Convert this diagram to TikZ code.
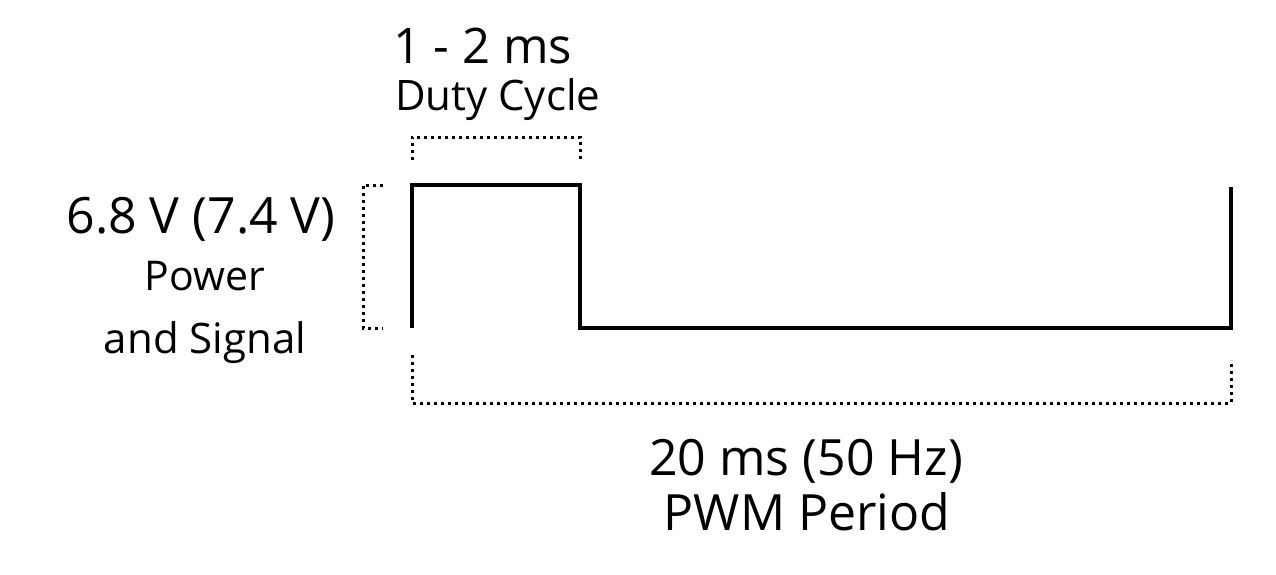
\documentclass[tikz,border=0pt]{standalone}
\usepackage{fontspec}
\setmainfont{Open Sans}
\begin{document}
\begin{tikzpicture}[x=1pt,y=-1pt, line join=miter, line cap=butt,
	wave/.style={line width=4pt},
	brace/.style={line width=3pt, dash pattern=on 3pt off 4pt},
	lbl/.style={inner sep=0pt, anchor=base, align=center}]
	\def\xa{412} \def\xb{580} \def\xc{1231} % Zeiten
	\def\yh{185} \def\yl{328}
	\useasboundingbox (0,0) rectangle (1276,574);
	% Signal
	\coordinate (s0) at (\xa,\yl);
	\coordinate (s1) at (\xa,\yh);
	\coordinate (s2) at (\xb,\yh);
	\coordinate (s3) at (\xb,\yl);
	\coordinate (s4) at (\xc,\yl);
	\coordinate (s5) at (\xc,187);
	\draw[wave] (s0)--(s1)--(s2)--(s3)--(s4)--(s5);
	% Klammern
	\draw[brace] (\xa,160)--(\xa,137)--(\xb,137)--(\xb,160);
	\draw[brace] (383,\yh)--(363,\yh)--(363,\yl)--(383,\yl);
	\draw[brace] (\xa,355)--(\xa,403)--(\xc,403)--(\xc,360);
	% Texte
	\node[lbl, anchor=base west, font=\fontsize{49}{60}\selectfont] (duty) at (393,63) {1 - 2 ms};
	\node[lbl, anchor=base west, font=\fontsize{42}{50}\selectfont] (dutyl) at (395,110) {Duty Cycle};
	\node[lbl, font=\fontsize{50}{60}\selectfont] (volt) at (201,233) {6.8 V (7.4 V)};
	\node[lbl, font=\fontsize{41}{50}\selectfont] (power) at (205,290) {Power};
	\node[lbl, font=\fontsize{42}{50}\selectfont] (sig) at (205,353) {and Signal};
	\node[lbl, font=\fontsize{50}{60}\selectfont] (per) at (806,475) {20 ms (50 Hz)};
	\node[lbl, font=\fontsize{50}{60}\selectfont] (pwm) at (807,530) {PWM Period};
\end{tikzpicture}
\end{document}
